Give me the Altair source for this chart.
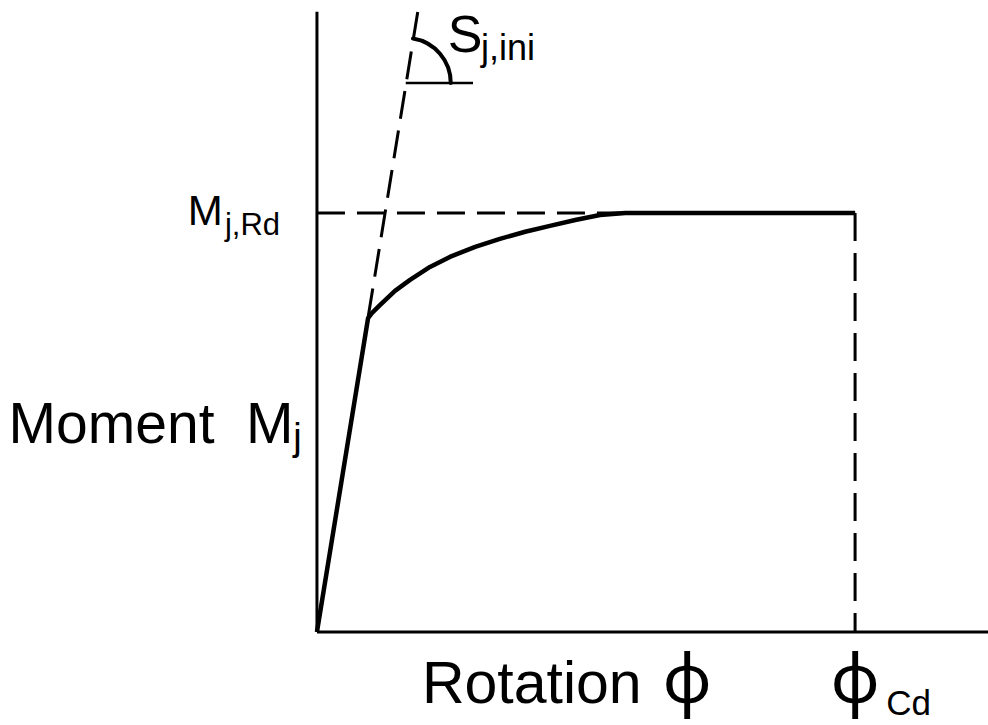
import altair as alt
import pandas as pd

# Moment-rotation characteristic of a joint, in normalised units:
# rotation / phi_Cd and moment / M_j,Rd
phi_curve = [0.0, 0.095, 0.102, 0.117, 0.145, 0.173, 0.210, 0.247, 0.294,
             0.340, 0.387, 0.433, 0.480, 0.526, 0.573, 1.0]
m_curve = [0.0, 0.749, 0.761, 0.780, 0.814, 0.840, 0.871, 0.895, 0.919,
           0.938, 0.955, 0.969, 0.983, 0.995, 1.0, 1.0]

phi_cd = 1.0          # rotation capacity
m_rd = 1.0            # design moment resistance
stiff_phi = [0.0, 0.188]   # initial stiffness line S_j,ini
stiff_m = [0.0, 1.485]

# extents of the drawn axes
x_axis_end = 1.247
y_axis_end = 1.48

# angle symbol for S_j,ini
angle_phi = [0.165, 0.290]
angle_m = 1.310
tilt = 0.161          # angle of the stiffness line from vertical (rad)

# labels: main letters and subscripts
label_text = ["Moment", "M", "j", "M", "j,Rd", "S", "j,ini", "Rotation", "Cd"]
label_phi = [-0.573, -0.132, -0.044, -0.240, -0.171, 0.243, 0.305, 0.195, 1.058]
label_m = [0.451, 0.451, 0.434, 0.971, 0.948, 1.384, 1.365, -0.170, -0.198]
label_size = [57, 57, 38, 42, 31, 52, 36, 59, 35]

phi_text = ["\u03c6", "\u03c6"]
phi_text_x = [0.688, phi_cd]
phi_text_y = [-0.170, -0.170]

xs = alt.Scale(domain=[-0.589, 1.247], nice=False, zero=False)
ys = alt.Scale(domain=[-0.222, 1.508], nice=False, zero=False)


def X(f="x"):
    return alt.X(f"{f}:Q", scale=xs, axis=None)


def Y(f="y"):
    return alt.Y(f"{f}:Q", scale=ys, axis=None)


# straight segments: axes and dashed construction lines
axes_df = pd.DataFrame({
    "x": [0.0, 0.0], "x2": [0.0, x_axis_end],
    "y": [0.0, 0.0], "y2": [y_axis_end, 0.0],
})
dashed_df = pd.DataFrame({
    "x": [stiff_phi[0], 0.0, phi_cd],
    "x2": [stiff_phi[1], phi_cd, phi_cd],
    "y": [stiff_m[0], m_rd, m_rd],
    "y2": [stiff_m[1], m_rd, 0.0],
})
angle_df = pd.DataFrame({"x": [angle_phi[0]], "x2": [angle_phi[1]],
                         "y": [angle_m], "y2": [angle_m]})
curve_df = pd.DataFrame({"x": phi_curve, "y": m_curve})


def segments(df, **style):
    return alt.Chart(df).mark_rule(color="black", **style).encode(
        x=X(), x2="x2:Q", y=Y(), y2="y2:Q"
    )


axes = segments(axes_df, strokeWidth=3)
dashed = segments(dashed_df, strokeWidth=3, strokeDash=[28, 12])
angle_base = segments(angle_df, strokeWidth=2.5)

curve = alt.Chart(curve_df).mark_line(
    color="black", strokeWidth=4.5, strokeJoin="round"
).encode(x=X(), y=Y())

angle_arc = alt.Chart(angle_df).mark_arc(
    radius=45, radius2=45, theta=tilt, theta2=1.5708,
    stroke="black", strokeWidth=4, fillOpacity=0, strokeJoin="round"
).encode(x=X(), y=Y())

labels_df = pd.DataFrame({"t": label_text, "x": label_phi, "y": label_m, "s": label_size})
labels = alt.Chart(labels_df).mark_text(
    align="left", baseline="alphabetic", font="Liberation Sans", color="black"
).encode(x=X(), y=Y(), text="t:N", size=alt.Size("s:Q", scale=None, legend=None))

phi_df = pd.DataFrame({"t": phi_text, "x": phi_text_x, "y": phi_text_y})
phis = alt.Chart(phi_df).mark_text(
    align="center", baseline="alphabetic", font="Noto Sans", fontSize=68, color="black"
).encode(x=X(), y=Y(), text="t:N")

chart = alt.layer(
    dashed, axes, curve, angle_base, angle_arc, labels, phis
).properties(
    width=988, height=725, autosize=alt.AutoSizeParams(type="none"), padding=0,
    background="white",
).configure_view(strokeWidth=0)

chart.save("out.html", embed_options={"renderer": "svg", "actions": False})
